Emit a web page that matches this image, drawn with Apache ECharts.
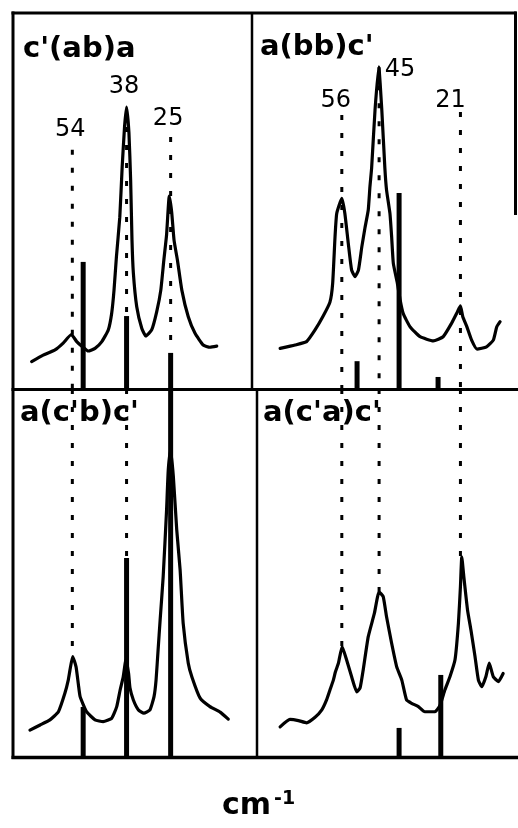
<!DOCTYPE html>
<html>
<head>
<meta charset="utf-8">
<script src="https://cdn.jsdelivr.net/npm/echarts@6/dist/echarts.min.js"></script>
<style>
  html, body { margin: 0; padding: 0; background: #fff; }
  #chart { width: 518px; height: 828px; }
</style>
</head>
<body>
<div id="chart"></div>
<script>
// Polarized low-frequency Raman spectra, four scattering geometries.
// x: Raman shift (cm-1, decreasing to the right), y: intensity (arbitrary units, 0..100 per panel)

// Peak positions marked by dotted guides
const peaksLeft = [54, 38, 25];
const peaksRight = [56, 45, 21];

// Panel titles (scattering geometries)
const geometries = ["c'(ab)a", "a(bb)c'", "a(c'b)c'", "a(c'a)c'"];

// Measured spectra: [shift, intensity]
const specCabA = [
  [66.0, 7.3], [62.6, 9.0], [59.1, 10.4], [56.7, 12.2], [54.3, 14.5], [52.7, 12.6],
  [51.2, 11.4], [49.3, 10.1], [47.3, 10.8], [45.3, 12.6], [43.4, 15.7], [42.4, 20.1],
  [41.7, 26.3], [41.0, 35.1], [40.0, 45.7], [39.3, 59.0], [38.6, 69.7], [38.0, 75.0],
  [37.3, 68.1], [36.8, 55.6], [36.4, 39.6], [36.0, 30.9], [35.0, 21.9], [33.5, 16.1],
  [32.3, 14.1], [30.6, 15.7], [29.1, 20.6], [27.9, 26.3], [27.0, 34.3], [26.2, 41.0],
  [25.4, 51.3], [24.7, 47.1], [24.0, 39.6], [23.0, 34.3], [21.7, 26.3], [19.8, 19.2],
  [17.8, 14.8], [15.4, 11.7], [13.4, 11.1], [11.4, 11.4]
];
const specAbbC = [
  [74.2, 10.8], [69.8, 11.7], [66.4, 12.6], [63.9, 15.7], [61.5, 19.4], [59.5, 23.1],
  [58.7, 28.1], [58.0, 40.5], [57.5, 46.7], [56.0, 50.7], [55.1, 46.7], [54.1, 38.8],
  [53.1, 31.6], [52.1, 29.9], [51.1, 31.6], [50.1, 37.8], [49.2, 42.7], [48.2, 47.6],
  [47.7, 53.8], [47.2, 58.8], [46.2, 74.2], [45.1, 85.7], [44.2, 74.2], [43.3, 58.8],
  [42.8, 52.9], [41.8, 46.7], [41.3, 40.5], [40.8, 33.4], [39.6, 28.1], [38.8, 23.7],
  [37.9, 20.1], [35.9, 16.6], [32.9, 13.9], [29.0, 12.8], [26.1, 13.9], [23.6, 17.5],
  [21.9, 20.5], [21.0, 22.1], [20.3, 19.2], [19.2, 16.8], [17.7, 13.0], [16.1, 10.6],
  [13.3, 11.2], [11.3, 13.0], [10.3, 16.5], [9.3, 17.9]
];
const specAcbC = [
  [66.5, 7.3], [63.5, 8.7], [60.6, 10.1], [58.1, 12.3], [56.2, 17.3], [55.2, 20.9],
  [54.7, 23.6], [53.9, 27.3], [52.9, 24.5], [52.2, 19.6], [51.7, 16.4], [49.8, 12.3],
  [47.3, 10.1], [44.9, 9.6], [42.4, 10.5], [40.9, 13.7], [39.9, 18.2], [39.0, 21.7],
  [38.2, 26.4], [37.4, 22.7], [37.0, 18.8], [36.0, 15.5], [34.5, 12.8], [32.9, 11.9],
  [31.1, 12.8], [29.9, 16.4], [29.3, 20.9], [28.7, 29.1], [28.1, 37.2], [27.2, 49.0],
  [26.2, 67.1], [25.7, 78.0], [25.0, 83.4], [24.2, 76.2], [23.2, 61.7], [22.2, 50.8],
  [21.3, 36.3], [19.8, 25.5], [18.7, 21.7], [16.3, 16.0], [13.4, 13.7], [10.4, 12.2],
  [8.0, 10.3]
];
const specAcaC = [
  [74.2, 8.2], [71.3, 10.2], [68.8, 9.9], [66.4, 9.3], [63.9, 10.8], [61.9, 12.8],
  [60.5, 15.5], [59.5, 18.2], [58.5, 20.9], [57.9, 23.1], [57.0, 25.5], [55.9, 30.0],
  [54.6, 26.4], [53.1, 21.8], [51.6, 17.7], [50.6, 18.8], [49.7, 23.6], [48.2, 32.7],
  [46.4, 39.0], [45.0, 44.9], [43.8, 43.6], [42.8, 38.1], [41.3, 30.9], [39.8, 24.5],
  [38.3, 20.9], [36.9, 15.5], [35.4, 14.6], [33.4, 13.7], [31.5, 12.3], [28.5, 12.3],
  [27.0, 14.1], [25.6, 18.2], [24.1, 21.8], [22.6, 26.4], [21.6, 36.3], [21.0, 46.3],
  [20.6, 54.4], [20.0, 49.0], [18.9, 39.9], [17.9, 34.5], [16.7, 27.3], [15.7, 20.9],
  [14.7, 19.1], [13.5, 21.8], [12.5, 25.5], [11.3, 21.8], [9.8, 20.5], [8.4, 22.7]
];

// Calculated mode frequencies and strengths: [shift, strength]
const sticksCabA = [[50.8, 33.8], [38, 19.4], [25, 9.6]];
const sticksAbbC = [[51.5, 7.4], [39.1, 52.1], [27.6, 3.2]];
const sticksAcbC = [[50.8, 13.6], [38, 54.1], [25, 100]];
const sticksAcaC = [[39.1, 7.9], [26.8, 22.3]];

// Dotted guides: start height in the upper panels, label height, end height in the lower panels
const guideStartUpperLeft = [63.6, 74.5, 67.0];
const labelLevelLeft = [68.9, 80.3, 71.8];
const guideEndLowerLeft = [27.3, 26.4, 83.4];
const guideStartUpperRight = [72.9, 85.6, 73.7];
const labelLevelRight = [76.6, 85.0, 76.7];
const guideEndLowerRight = [30.0, 44.9, 54.4];

const INK = '#000';
const FONT = 'DejaVu Sans';

const grids = [
  { left: 13, top: 13, width: 239, height: 376 },
  { left: 252, top: 13, width: 263, height: 376 },
  { left: 13, top: 389, width: 239, height: 368 },
  { left: 252, top: 389, width: 263, height: 368 }
];
const xRanges = [[1, 71.5], [4.9, 82.5], [1, 71.5], [4.9, 82.5]];

const xAxes = xRanges.map((r, i) => ({
  type: 'value', gridIndex: i, min: r[0], max: r[1], inverse: true, show: false
}));
const yAxes = grids.map((g, i) => ({
  type: 'value', gridIndex: i, min: 0, max: 100, show: false
}));

function guide(panel, x, from, to) {
  return {
    type: 'line', xAxisIndex: panel, yAxisIndex: panel,
    data: [[x, from], [x, to]], symbol: 'none', silent: true, z: 1,
    lineStyle: { color: INK, width: 3, type: [5, 13], cap: 'butt' }
  };
}

function spectrum(panel, data) {
  return {
    type: 'line', xAxisIndex: panel, yAxisIndex: panel, data: data,
    symbol: 'none', smooth: 0.15, z: 3, silent: true,
    lineStyle: { color: INK, width: 3.2, join: 'round', cap: 'round' }
  };
}

function sticks(panel, data) {
  return {
    type: 'bar', xAxisIndex: panel, yAxisIndex: panel, data: data,
    barWidth: 5, z: 2, silent: true,
    itemStyle: { color: INK }
  };
}

function peakLabels(panel, peaks, levels, offsets) {
  return {
    type: 'scatter', xAxisIndex: panel, yAxisIndex: panel,
    data: peaks.map((p, i) => ({
      value: [p, levels[i]],
      label: { offset: offsets[i] }
    })),
    symbolSize: 0, silent: true, z: 4,
    itemStyle: { opacity: 1 },
    label: {
      show: true, position: 'inside',
      formatter: (d) => String(d.value[0]),
      color: INK, opacity: 1, fontFamily: FONT, fontSize: 24
    }
  };
}

const series = [];
peaksLeft.forEach((p, i) => {
  series.push(guide(0, p, guideStartUpperLeft[i], 0));
  series.push(guide(2, p, 100, guideEndLowerLeft[i]));
});
peaksRight.forEach((p, i) => {
  series.push(guide(1, p, guideStartUpperRight[i], 0));
  series.push(guide(3, p, 100, guideEndLowerRight[i]));
});
series.push(sticks(0, sticksCabA), sticks(1, sticksAbbC), sticks(2, sticksAcbC), sticks(3, sticksAcaC));
series.push(spectrum(0, specCabA), spectrum(1, specAbbC), spectrum(2, specAcbC), spectrum(3, specAcaC));
series.push(peakLabels(0, peaksLeft, labelLevelLeft, [[-2, 0], [-2.5, 0], [-2.5, 0]]));
series.push(peakLabels(1, peaksRight, labelLevelRight, [[-6, 0], [21, 0], [-10, 0]]));

const titlePos = [[23, 35], [260, 33], [20, 399], [263, 399]];
const titles = geometries.map((t, i) => ({
  text: t, left: titlePos[i][0], top: titlePos[i][1], padding: 0,
  textStyle: { fontFamily: FONT, fontWeight: 'bold', fontSize: 29, color: INK }
}));
titles.push({
  text: '{u|cm}{s|-1}', left: 222, top: 787, padding: 0,
  textStyle: {
    rich: {
      u: { fontFamily: FONT, fontWeight: 'bold', fontSize: 30, color: INK, lineHeight: 34, verticalAlign: 'bottom' },
      s: { fontFamily: FONT, fontWeight: 'bold', fontSize: 19, color: INK, lineHeight: 34, verticalAlign: 'top', padding: [3, 0, 0, 3] }
    }
  }
});

// Panel frame
function rule(x1, y1, x2, y2, w) {
  return { type: 'line', silent: true, z: 10,
    shape: { x1, y1, x2, y2 }, style: { stroke: INK, lineWidth: w || 3 } };
}
const frame = [
  rule(11.5, 13, 516.5, 13),
  rule(13, 11.5, 13, 759),
  rule(11.5, 757.5, 518, 757.5, 3.5),
  rule(11.5, 389.5, 518, 389.5),
  rule(252, 13, 252, 389.5, 2.5),
  rule(257, 389.5, 257, 757.5, 2.5),
  rule(515.5, 11.5, 515.5, 215)
];

const chart = echarts.init(document.getElementById('chart'), null, { renderer: 'canvas' });
chart.setOption({
  animation: false,
  backgroundColor: '#fff',
  title: titles,
  grid: grids,
  xAxis: xAxes,
  yAxis: yAxes,
  series: series,
  graphic: frame
});
</script>
</body>
</html>
